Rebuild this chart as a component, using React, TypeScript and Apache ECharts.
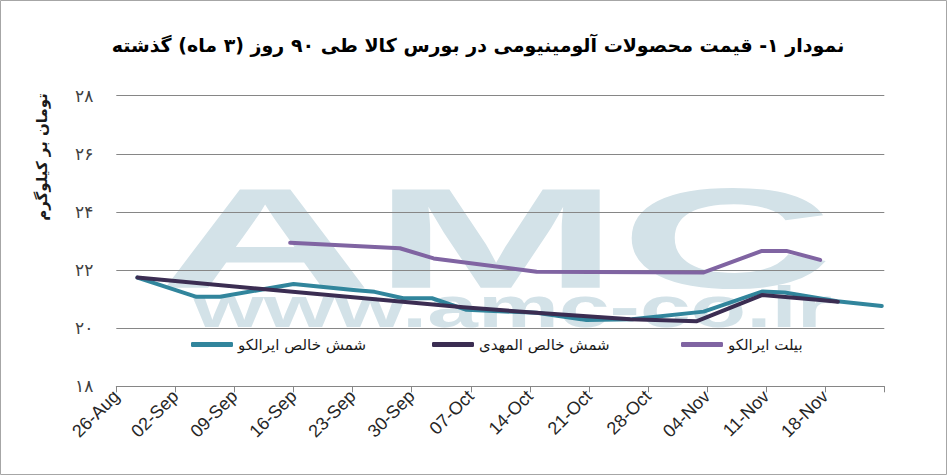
import React, { useEffect, useRef } from 'react';
import * as echarts from 'echarts';

// x ticks: every 7 days starting 26-Aug (value = days since 26-Aug)
const xTickLabels = ['26-Aug', '02-Sep', '09-Sep', '16-Sep', '23-Sep', '30-Sep', '07-Oct', '14-Oct', '21-Oct', '28-Oct', '04-Nov', '11-Nov', '18-Nov', ''];
const yTickLabels = ['۱۸', '۲۰', '۲۲', '۲۴', '۲۶', '۲۸'];

const titleText = 'نمودار ۱- قیمت محصولات آلومینیومی در بورس کالا طی ۹۰ روز (۳ ماه) گذشته';
const yAxisTitle = 'تومان بر کیلوگرم';
const seriesNames = ['شمش خالص ایرالکو', 'شمش خالص المهدی', 'بیلت ایرالکو'];

// شمش خالص ایرالکو
const iralcoIngotDays = [2.5, 9.5, 12.3, 21.0, 28.1, 30.6, 34.0, 37.4, 41.5, 49.8, 55.7, 61.1, 69.6, 76.5, 79.2, 85.4, 90.7];
const iralcoIngotPrices = [21.74, 21.08, 21.08, 21.52, 21.31, 21.25, 21.03, 21.03, 20.63, 20.53, 20.28, 20.31, 20.57, 21.26, 21.23, 20.93, 20.76];

// شمش خالص المهدی
const almahdiIngotDays = [2.5, 41.1, 50.6, 60.9, 68.8, 76.5, 83.4, 85.5];
const almahdiIngotPrices = [21.74, 20.72, 20.51, 20.31, 20.24, 21.14, 20.97, 20.91];

// بیلت ایرالکو
const iralcoBilletDays = [20.6, 33.6, 37.6, 49.8, 69.6, 76.5, 79.4, 83.4];
const iralcoBilletPrices = [22.94, 22.75, 22.40, 21.94, 21.92, 22.66, 22.66, 22.35];

const colors = ['#31859c', '#3b2d52', '#8064a2'];

const pair = (days: number[], vals: number[]) => days.map((d, i) => [d, vals[i]]);

export default function App() {
  const ref = useRef<HTMLDivElement>(null);
  useEffect(() => {
    if (!ref.current) return;
    const chart = echarts.init(ref.current, undefined, { renderer: 'svg' });
    const persian = 'DejaVu Sans';
    const wm = '#d3e2e8';
    const legendLefts = [191, 432, 681];
    chart.setOption({
      animation: false,
      backgroundColor: '#ffffff',
      grid: { left: 116.3, right: 62.7, top: 95.7, bottom: 88.7 },
      xAxis: {
        type: 'value',
        min: 0,
        max: 91,
        interval: 7,
        splitLine: { show: false },
        axisLine: { show: true, lineStyle: { color: '#868686', width: 1 } },
        axisTick: { show: true, length: 6, lineStyle: { color: '#868686' } },
        axisLabel: {
          rotate: 45,
          margin: 7,
          fontFamily: 'Liberation Sans',
          fontSize: 18,
          color: '#262626',
          showMinLabel: true,
          showMaxLabel: true,
          formatter: (v: number) => xTickLabels[Math.round(v / 7)] ?? '',
        },
      },
      yAxis: {
        type: 'value',
        min: 18,
        max: 28,
        interval: 2,
        axisLine: { show: false },
        axisTick: { show: false },
        splitLine: { show: true, lineStyle: { color: '#868686', width: 1 } },
        axisLabel: {
          margin: 23,
          fontFamily: persian,
          fontSize: 17,
          color: '#404040',
          formatter: (v: number) => yTickLabels[Math.round((v - 18) / 2)] ?? '',
        },
      },
      legend: seriesNames.map((n, i) => ({
        data: [n],
        left: legendLefts[i],
        top: 337,
        padding: 0,
        itemWidth: 42,
        itemHeight: 5,
        icon: 'roundRect',
        textStyle: { fontFamily: persian, fontSize: 15, color: '#1a1a1a' },
      })),
      graphic: [
        {
          type: 'rect',
          z: -20,
          silent: true,
          shape: { x: 0.5, y: 0.5, width: 946, height: 474 },
          style: { fill: 'none', stroke: '#a6a6a6', lineWidth: 1 },
        },
        {
          type: 'text',
          z: -10,
          silent: true,
          x: 158,
          y: 238,
          scaleX: 2.12,
          scaleY: 1.02,
          style: {
            text: 'AMC',
            font: 'bold 140px "Liberation Sans"',
            fill: wm,
            textAlign: 'left',
            textVerticalAlign: 'middle',
          },
        },
        {
          type: 'text',
          z: -10,
          silent: true,
          x: 193,
          y: 307,
          scaleX: 1.57,
          scaleY: 1,
          style: {
            text: 'www.amc-co.ir',
            font: 'bold 58px "Liberation Sans"',
            fill: wm,
            textAlign: 'left',
            textVerticalAlign: 'middle',
          },
        },
        {
          type: 'text',
          x: 478,
          y: 45,
          style: {
            text: titleText,
            font: 'bold 19px "DejaVu Sans"',
            fill: '#000000',
            textAlign: 'center',
            textVerticalAlign: 'middle',
          },
        },
        {
          type: 'text',
          x: 42,
          y: 157,
          rotation: Math.PI / 2,
          style: {
            text: yAxisTitle,
            font: 'bold 15px "DejaVu Sans"',
            fill: '#1a1a1a',
            textAlign: 'center',
            textVerticalAlign: 'middle',
          },
        },
      ],
      series: [
        { name: seriesNames[0], data: pair(iralcoIngotDays, iralcoIngotPrices), color: colors[0] },
        { name: seriesNames[1], data: pair(almahdiIngotDays, almahdiIngotPrices), color: colors[1] },
        { name: seriesNames[2], data: pair(iralcoBilletDays, iralcoBilletPrices), color: colors[2] },
      ].map((s) => ({
        type: 'line',
        name: s.name,
        data: s.data,
        showSymbol: false,
        symbol: 'none',
        itemStyle: { color: s.color },
        lineStyle: { color: s.color, width: 4, cap: 'round', join: 'round' },
      })),
    });
    return () => chart.dispose();
  }, []);
  return (
    <div
      ref={ref}
      style={{ position: 'fixed', left: 0, top: 0, width: 947, height: 475, background: '#fff' }}
    />
  );
}
